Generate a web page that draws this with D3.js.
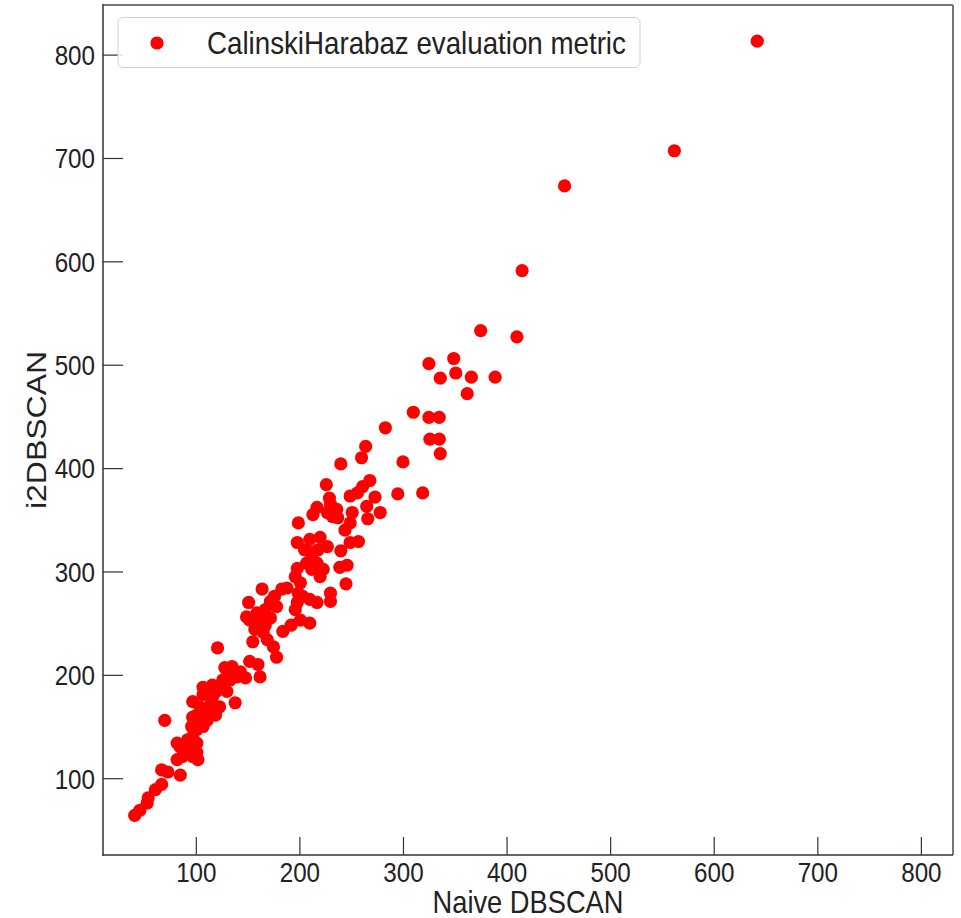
<!DOCTYPE html>
<html>
<head>
<meta charset="utf-8">
<script src="https://cdn.jsdelivr.net/npm/d3@7"></script>
<style>
  html, body { margin: 0; padding: 0; background: #fff; }
  svg { display: block; }
  text { font-family: "Liberation Sans", Arial, Helvetica, sans-serif; fill: #222; }
</style>
</head>
<body>
<svg id="chart" width="961" height="918"></svg>
<script>
// ---- data ----
const naiveDBSCAN = [
  642,562,456,415,410,375,349,351,325,336,366,389,362,310,325,335,326,335,336,283,300,264,260,240,295,319,
  226,229,268,261,256,249,273,265,278,266,217,213,230,236,227,232,237,251,249,244,199,257,249,240,198,210,220,227,218,210,205,212,217,207,212,198,239,246,223,220,245,164,183,176,172,201,199,203,210,217,198,196,230,230,151,149,159,167,172,164,210,201,196,188,178,
  152,160,167,157,165,155,169,175,178,152,160,162,184,192,
  128,135,143,140,148,130,133,126,107,116,123,120,130,114,107,116,97,104,114,123,119,111,101,121,138,70,
  82,85,92,97,101,94,101,102,97,96,101,107,104,97,104,111,114,82,87,92,85,67,73,61,67,53,54,41,46
];
const i2DBSCAN = [
  813,707,673,591,527,533,506,492,501,487,488,488,472,454,449,449,428,428,414,439,406,421,410,404,375,376,
  384,371,388,382,376,373,372,363,357,351,362,355,365,360,357,353,352,357,347,340,347,329,328,320,328,331,333,324,321,319,321,314,308,308,302,303,304,306,302,295,288,283,283,276,271,289,279,276,273,270,270,263,279,271,270,256,260,263,255,250,250,253,295,284,266,
  253,255,248,244,241,232,234,227,217,213,210,198,242,248,
  207,208,203,198,197,198,195,195,188,190,188,184,184,183,181,178,174,169,171,169,161,163,161,226,173,156,
  134,130,137,140,134,127,125,118,121,150,147,150,156,159,163,156,163,118,121,125,103,108,106,89,94,76,81,64,69
];
const xTickValues = [100, 200, 300, 400, 500, 600, 700, 800];
const yTickValues = [100, 200, 300, 400, 500, 600, 700, 800];
const xDomain = [10.4, 831];
const yDomain = [25.7, 848];
const legendLabel = "CalinskiHarabaz evaluation metric";
const xLabel = "Naive DBSCAN";
const yLabel = "i2DBSCAN";

// ---- layout ----
const pLeft = 103, pRight = 953, pTop = 5, pBottom = 855;
const squeeze = 0.88; // horizontal text compression seen in the reference
const svg = d3.select("#chart");

const x = d3.scaleLinear().domain(xDomain).range([pLeft, pRight]);
const y = d3.scaleLinear().domain(yDomain).range([pBottom, pTop]);

const points = naiveDBSCAN.map((v, i) => ({ x: v, y: i2DBSCAN[i] }));

// points
svg.append("g")
  .selectAll("circle")
  .data(points)
  .join("circle")
  .attr("cx", d => x(d.x))
  .attr("cy", d => y(d.y))
  .attr("r", 6.6)
  .attr("fill", "#ff0000");

// axes (ticks inward)
const xAxis = svg.append("g")
  .attr("transform", `translate(0,${pBottom})`)
  .call(d3.axisBottom(x).tickValues(xTickValues).tickSizeInner(-18).tickSizeOuter(0).tickPadding(7));
const yAxis = svg.append("g")
  .attr("transform", `translate(${pLeft},0)`)
  .call(d3.axisLeft(y).tickValues(yTickValues).tickSizeInner(-20).tickSizeOuter(0).tickPadding(8));

[xAxis, yAxis].forEach(ax => {
  ax.select(".domain").remove();
  ax.selectAll(".tick line").attr("stroke", "#333").attr("stroke-width", 1.2);
  ax.selectAll(".tick text")
    .attr("font-size", 27.5)
    .attr("fill", "#222")
    .style("font-family", "'Liberation Sans', Arial, sans-serif")
    .attr("transform", `scale(${squeeze},1)`);
});
yAxis.selectAll(".tick text").attr("x", -8 / squeeze).attr("dy", "0.36em");

// frame
svg.append("line").attr("x1", pLeft).attr("x2", pRight).attr("y1", pTop).attr("y2", pTop)
  .attr("stroke", "#777").attr("stroke-width", 2);
svg.append("line").attr("x1", pRight).attr("x2", pRight).attr("y1", pTop).attr("y2", pBottom)
  .attr("stroke", "#777").attr("stroke-width", 2);
svg.append("line").attr("x1", pLeft).attr("x2", pLeft).attr("y1", pTop - 1).attr("y2", pBottom + 0.7)
  .attr("stroke", "#333").attr("stroke-width", 1.5);
svg.append("line").attr("x1", pLeft - 0.7).attr("x2", pRight).attr("y1", pBottom).attr("y2", pBottom)
  .attr("stroke", "#333").attr("stroke-width", 1.5);

// axis labels
svg.append("text")
  .attr("transform", `translate(${(pLeft + pRight) / 2},913) scale(${squeeze},1)`)
  .attr("text-anchor", "middle")
  .attr("font-size", 31)
  .text(xLabel);
svg.append("text")
  .attr("transform", `translate(46,${(pTop + pBottom) / 2}) rotate(-90) scale(1,${squeeze})`)
  .attr("text-anchor", "middle")
  .attr("font-size", 32)
  .text(yLabel);

// legend
const lg = svg.append("g");
lg.append("rect")
  .attr("x", 118).attr("y", 17.5).attr("width", 522).attr("height", 50)
  .attr("rx", 5).attr("ry", 5)
  .attr("fill", "#fff").attr("fill-opacity", 0.85)
  .attr("stroke", "#d0d0d0").attr("stroke-width", 1);
lg.append("circle").attr("cx", 157).attr("cy", 43).attr("r", 6.6).attr("fill", "#ff0000");
lg.append("text")
  .attr("transform", `translate(207,54) scale(${squeeze},1)`)
  .attr("font-size", 31.5)
  .text(legendLabel);
</script>
</body>
</html>
